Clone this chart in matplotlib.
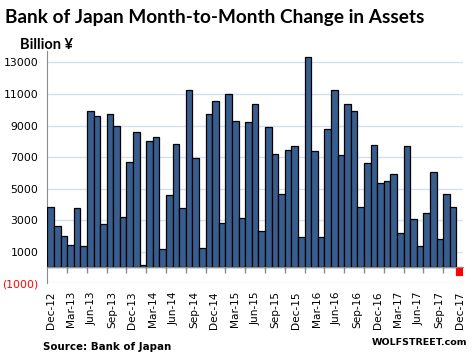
import numpy as np
import matplotlib
matplotlib.use("Agg")
import matplotlib.pyplot as plt

# monthly change in BOJ assets, billion yen
values = [3850, 2650, 2020, 1450, 3790, 1330, 9920, 9610, 2780, 9730,
          8980, 3220, 6700, 8600, 130, 8030, 8280, 1140, 4610, 7840,
          3790, 11250, 6950, 1260, 9730, 10560, 2840, 11000, 9290, 3160,
          9230, 10370, 2340, 8910, 7210, 4680, 7460, 7710, 1900, 13340,
          7400, 1900, 8790, 11250, 7140, 10370, 9920, 3860, 6640, 7780,
          5370, 5500, 5940, 2210, 7710, 3100, 1330, 3480, 6070, 1830,
          4680, 3860, -450]
labels = ["Dec-12", "Mar-13", "Jun-13", "Sep-13", "Dec-13", "Mar-14", "Jun-14",
          "Sep-14", "Dec-14", "Mar-15", "Jun-15", "Sep-15", "Dec-15", "Mar-16",
          "Jun-16", "Sep-16", "Dec-16", "Mar-17", "Jun-17", "Sep-17", "Dec-17"]
yticks = [-1000, 1000, 3000, 5000, 7000, 9000, 11000, 13000]

blue = "#375e8f"
grid_col = "#d6e0ec"

fig = plt.figure(figsize=(4.76, 3.61), dpi=100)
ax = fig.add_axes([0.0994, 0.2155, 0.8733, 0.642])

x = np.arange(len(values))
colors = [blue if v >= 0 else "#ff0000" for v in values]
edges = ["black" if v >= 0 else "#ff0000" for v in values]
ax.bar(x, values, width=1.0, color=colors, edgecolor=edges, linewidth=0.9, zorder=3)

ax.set_xlim(-0.5, len(values) - 0.5)
ax.set_ylim(-1000, 13700)

# grid lines
ax.set_yticks(yticks)
ax.set_yticklabels(["(1000)"] + [str(t) for t in yticks[1:]])
ax.get_yticklabels()[0].set_color("red")
ax.yaxis.grid(True, color=grid_col, linewidth=1.0, zorder=0)
ax.tick_params(axis="y", length=0, labelsize=7.8, pad=6.5)

# x axis sits on zero
ax.spines["bottom"].set_position(("data", 0))
ax.spines["bottom"].set_color("#8c8c8c")
ax.spines["bottom"].set_zorder(4)
ax.spines["left"].set_color("#8c8c8c")
ax.spines["top"].set_visible(False)
ax.spines["right"].set_visible(False)

ax.set_xticks(np.linspace(0, len(values) - 1, len(labels)))
ax.set_xticklabels(labels, rotation=90, fontsize=7.6)
ax.set_xticks(np.arange(2.5, 60, 3), minor=True)
ax.tick_params(axis="x", which="major", length=0, pad=17)
ax.tick_params(axis="x", which="minor", length=4, color="#8c8c8c", width=1)

fig.text(0.01, 0.935, "Bank of Japan Month-to-Month Change in Assets",
         fontsize=13.7, fontweight="bold", family="Lato")
fig.text(0.042, 0.865, "Billion ¥", fontsize=10.5, fontweight="bold", family="Lato")
fig.text(0.09, 0.03, "Source: Bank of Japan", fontsize=7.4, fontweight="bold")
fig.text(0.982, 0.045, "WOLFSTREET.com", fontsize=6.8, fontweight="bold", ha="right")

fig.savefig("out.png", dpi=100)
